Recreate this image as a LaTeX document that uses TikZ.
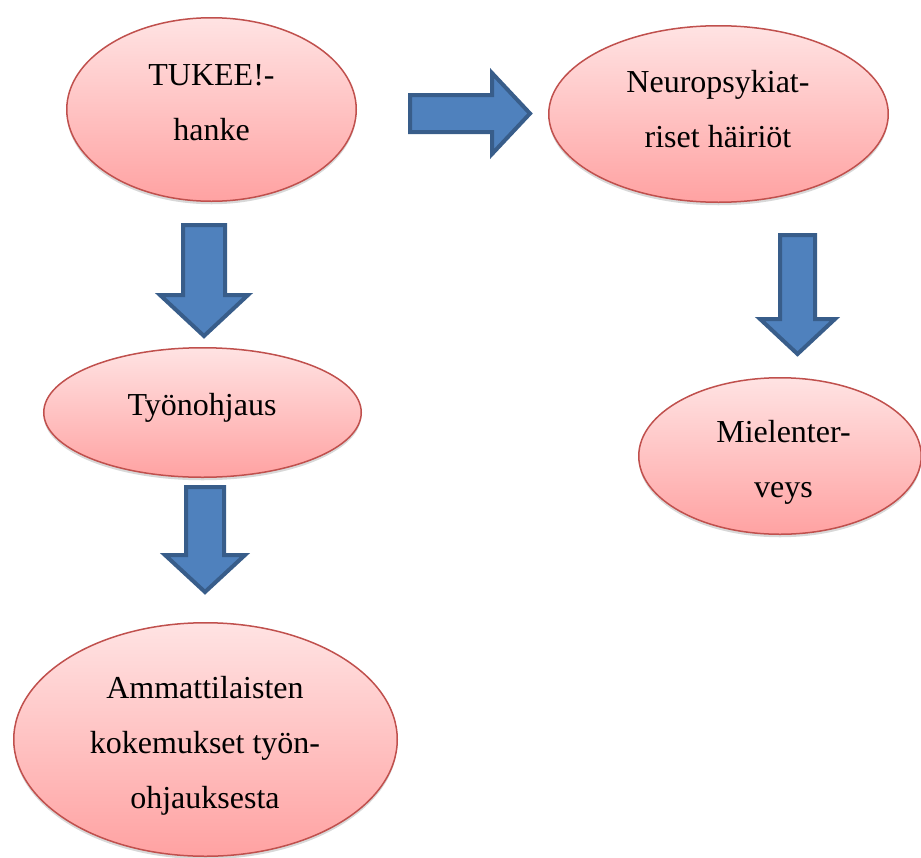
\documentclass[tikz,border=0pt]{standalone}
\usepackage{fontspec}
\setmainfont{Liberation Serif}
\usetikzlibrary{shapes.geometric,shadows}
\definecolor{ellborder}{RGB}{192,80,77}
\definecolor{elltop}{RGB}{255,227,227}
\definecolor{ellbot}{RGB}{255,162,162}
\definecolor{arrfill}{RGB}{79,129,189}
\definecolor{arrborder}{RGB}{56,93,138}
\tikzset{
  oval/.style={ellipse, draw=ellborder, line width=1.5pt, inner sep=0pt,
    top color=elltop, bottom color=ellbot,
    drop shadow={shadow xshift=0pt, shadow yshift=-3pt, opacity=0.22, fill=black!70}},
  txt/.style={align=center, inner sep=0pt, font=\fontsize{32}{55}\selectfont},
  blockarrow/.style={fill=arrfill, draw=arrborder, line width=4pt, line join=miter}
}
\begin{document}
\begin{tikzpicture}[x=1pt,y=-1pt]
\useasboundingbox (0,0) rectangle (921,857);
% ellipses
\node[oval, minimum width=289.5pt, minimum height=183.5pt] (e1) at (211.5,109.5) {};
\node[oval, minimum width=339.5pt, minimum height=176.5pt] (e2) at (718.5,114) {};
\node[oval, minimum width=317.5pt, minimum height=129.5pt] (e3) at (202.5,412.5) {};
\node[oval, minimum width=282.5pt, minimum height=156.5pt] (e4) at (780,456) {};
\node[oval, minimum width=383.5pt, minimum height=233.5pt] (e5) at (205.5,739.5) {};
% texts
\node[txt] (t1) at (211.5,101.5) {TUKEE!-\strut\\hanke\strut};
\node[txt] (t2) at (718,108.5) {Neuropsykiat-\strut\\riset häiriöt\strut};
\node[txt] (t3) at (202,404) {Työnohjaus\strut};
\node[txt] (t4) at (783.5,458.5) {Mielenter-\strut\\veys\strut};
\node[txt] (t5) at (205,742) {Ammattilaisten\strut\\kokemukset työn-\strut\\ohjauksesta\strut};
% block arrows
\draw[blockarrow] (410,95) -- (492,95) -- (492,73) -- (530,113.5) -- (492,154) -- (492,132) -- (410,132) -- cycle;
\draw[blockarrow] (183,225) -- (225,225) -- (225,295) -- (248,295) -- (204,336) -- (160,295) -- (183,295) -- cycle;
\draw[blockarrow] (780,235) -- (815,235) -- (815,319) -- (835,319) -- (797.5,354) -- (760,319) -- (780,319) -- cycle;
\draw[blockarrow] (186,487) -- (224,487) -- (224,555) -- (245,555) -- (205,592) -- (165,555) -- (186,555) -- cycle;
\end{tikzpicture}
\end{document}
